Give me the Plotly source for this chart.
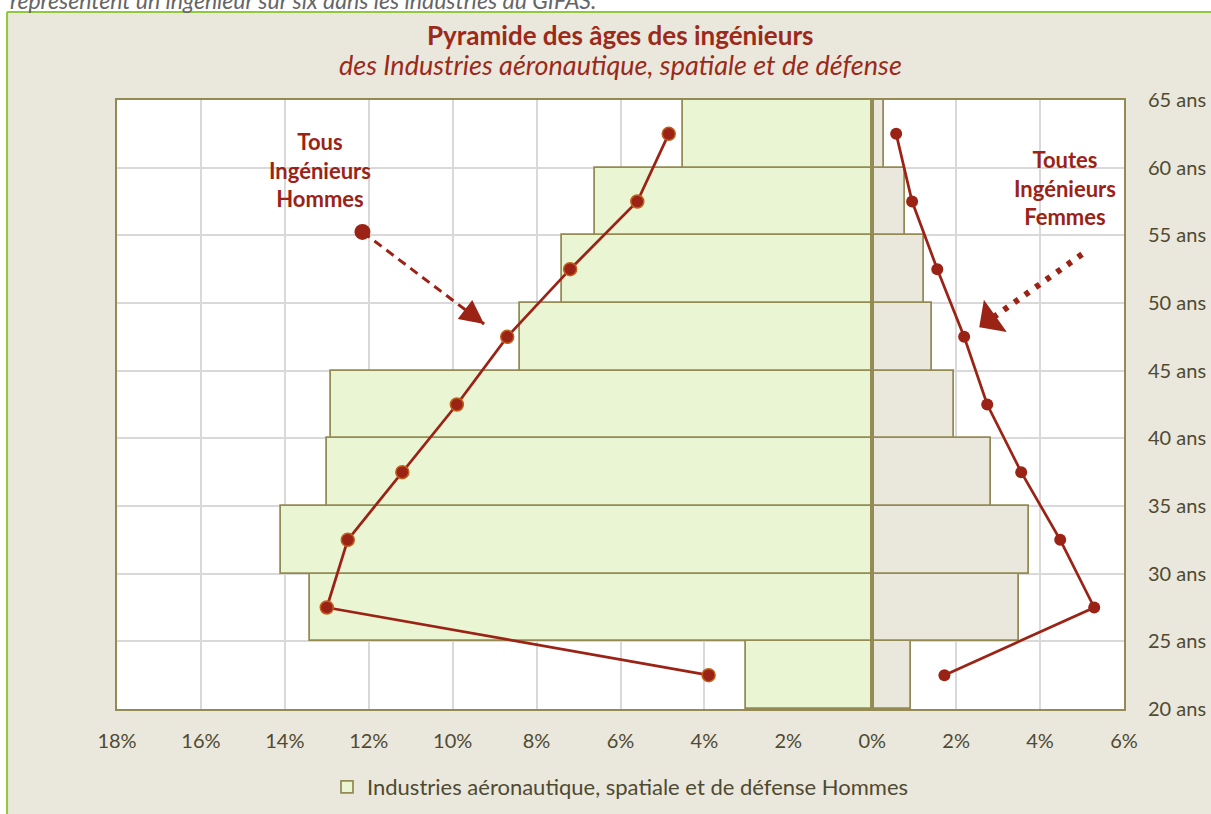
import plotly.graph_objects as go

# ---------------- data ----------------
age_centers = [22.5, 27.5, 32.5, 37.5, 42.5, 47.5, 52.5, 57.5, 62.5]
men_sector = [3.0, 13.4, 14.1, 13.0, 12.9, 8.4, 7.4, 6.6, 4.5]        # % (drawn left)
women_sector = [0.93, 3.5, 3.74, 2.84, 1.95, 1.43, 1.24, 0.79, 0.29]  # % (drawn right)
men_all = [3.9, 13.0, 12.5, 11.2, 9.9, 8.7, 7.2, 5.6, 4.85]          # Tous ingénieurs hommes
women_all = [1.72, 5.29, 4.48, 3.55, 2.74, 2.19, 1.55, 0.95, 0.57]   # Toutes ingénieurs femmes

x_tickvals = [-18, -16, -14, -12, -10, -8, -6, -4, -2, 0, 2, 4, 6]
x_ticktext = ["18%", "16%", "14%", "12%", "10%", "8%", "6%", "4%", "2%", "0%", "2%", "4%", "6%"]
y_tickvals = [20, 25, 30, 35, 40, 45, 50, 55, 60, 65]
y_ticktext = ["20 ans", "25 ans", "30 ans", "35 ans", "40 ans", "45 ans", "50 ans", "55 ans", "60 ans", "65 ans"]

# decorative pointer arrows (start, tip)
men_arrow_x = [-12.15, -9.25]
men_arrow_y = [55.25, 48.45]
women_arrow_x = [5.0, 2.55]
women_arrow_y = [53.6, 48.2]

title_text = "Pyramide des âges des ingénieurs"
subtitle_text = "des Industries aéronautique, spatiale et de défense"
legend_name = "Industries aéronautique, spatiale et de défense Hommes"
top_text = "représentent un ingénieur sur six dans les industries du GIFAS."

# ---------------- styles ----------------
RED = "#9B2316"
OLIVE = "#948A54"
BEIGE = "#EAE7DC"
GREEN_FILL = "#EAF5D3"
TXT = "#4F4A32"
FONT = "Lato"

fig = go.Figure()

fig.add_trace(go.Bar(
    y=age_centers, x=[-v for v in men_sector], orientation="h", width=5,
    marker=dict(color=GREEN_FILL, line=dict(color=OLIVE, width=1.75)),
    name=legend_name, showlegend=True, hoverinfo="skip"))
fig.add_trace(go.Bar(
    y=age_centers, x=women_sector, orientation="h", width=5,
    marker=dict(color=BEIGE, line=dict(color=OLIVE, width=1.75)),
    name="Industries aéronautique, spatiale et de défense Femmes", showlegend=False))

fig.add_trace(go.Scatter(
    y=age_centers, x=[-v for v in men_all], mode="lines+markers",
    line=dict(color=RED, width=2.75),
    marker=dict(size=13, color=RED, line=dict(color="#C0601A", width=1.5)),
    name="Tous Ingénieurs Hommes", showlegend=False))
fig.add_trace(go.Scatter(
    y=age_centers, x=women_all, mode="lines+markers",
    line=dict(color=RED, width=2.75),
    marker=dict(size=12, color=RED),
    name="Toutes Ingénieurs Femmes", showlegend=False))

# decorative arrows: shafts
fig.add_trace(go.Scatter(
    x=men_arrow_x, y=men_arrow_y, mode="lines",
    line=dict(color=RED, width=3, dash="9px,6px"),
    showlegend=False, hoverinfo="skip"))
fig.add_trace(go.Scatter(
    x=men_arrow_x[:1], y=men_arrow_y[:1], mode="markers",
    marker=dict(size=16, color=RED),
    showlegend=False, hoverinfo="skip"))
fig.add_trace(go.Scatter(
    x=women_arrow_x, y=women_arrow_y, mode="lines",
    line=dict(color=RED, width=6, dash="5px,8px"),
    showlegend=False, hoverinfo="skip"))

# zero line on top
fig.add_shape(type="line", x0=0, x1=0, y0=20, y1=65, xref="x", yref="y",
              line=dict(color=OLIVE, width=3.5), layer="above")

# outer frame (white strip above and left, green border)
fig.add_shape(type="rect", xref="paper", yref="paper",
              x0=-0.2, x1=1.2, y0=1.1445, y1=1.3, fillcolor="white",
              line=dict(width=0), layer="above")
fig.add_shape(type="rect", xref="paper", yref="paper",
              x0=-0.2, x1=-0.1092, y0=-0.3, y1=1.3, fillcolor="white",
              line=dict(width=0), layer="above")
fig.add_shape(type="line", xref="paper", yref="paper",
              x0=-0.1092, x1=1.2, y0=1.1445, y1=1.1445,
              line=dict(color="#92C83E", width=2), layer="above")
fig.add_shape(type="line", xref="paper", yref="paper",
              x0=-0.1092, x1=-0.1092, y0=-0.3, y1=1.1445,
              line=dict(color="#92C83E", width=2), layer="above")


def head(xs, ys, style, size):
    # arrowhead drawn at the tip, tail a short way back along the shaft
    f = 0.12
    return dict(x=xs[1], y=ys[1], ax=xs[1] - f * (xs[1] - xs[0]), ay=ys[1] - f * (ys[1] - ys[0]),
                xref="x", yref="y", axref="x", ayref="y", text="", showarrow=True,
                arrowhead=style, arrowsize=size, arrowwidth=3, arrowcolor=RED)


annotations = [
    dict(text="<b>" + title_text + "</b>", xref="paper", yref="paper",
         x=0.5, y=1.1067, xanchor="center", yanchor="middle", showarrow=False,
         font=dict(size=26, color="#9C2A1A", family=FONT)),
    dict(text="<i>" + subtitle_text + "</i>", xref="paper", yref="paper",
         x=0.5, y=1.0575, xanchor="center", yanchor="middle", showarrow=False,
         font=dict(size=27, color="#9C2A1A", family=FONT)),
    dict(text="<b>Tous<br>Ingénieurs<br>Hommes</b>", xref="x", yref="y",
         x=-13.16, y=59.8, xanchor="center", yanchor="middle", showarrow=False, align="center",
         font=dict(size=22, color=RED, family=FONT)),
    dict(text="<b>Toutes<br>Ingénieurs<br>Femmes</b>", xref="x", yref="y",
         x=4.6, y=58.5, xanchor="center", yanchor="middle", showarrow=False, align="center",
         font=dict(size=22, color=RED, family=FONT)),
    dict(text="<i>" + top_text + "</i>", xref="paper", yref="paper",
         x=-0.108, y=1.165, xanchor="left", yanchor="middle", showarrow=False,
         font=dict(size=23, color="#666666", family=FONT)),
    head(men_arrow_x, men_arrow_y, 2, 1.6),
    head(women_arrow_x, women_arrow_y, 1, 2.2),
]

fig.update_layout(
    width=1211, height=814,
    margin=dict(l=117, r=87, t=100, b=105, autoexpand=False),
    paper_bgcolor=BEIGE, plot_bgcolor="white",
    barmode="overlay", bargap=0,
    font=dict(family=FONT, color=TXT, size=20),
    annotations=annotations,
    legend=dict(orientation="h", x=0.5, y=-0.128, xanchor="center", yanchor="middle",
                font=dict(size=22, color=TXT, family=FONT), bgcolor="rgba(0,0,0,0)",
                itemwidth=30),
    xaxis=dict(range=[-18, 6], tickvals=x_tickvals, ticktext=x_ticktext, automargin=False,
               showgrid=True, gridcolor="#D9D9D9", gridwidth=1.5,
               zeroline=False, showline=True, mirror=True, linecolor=OLIVE, linewidth=2,
               ticks="", ticklabelstandoff=13, tickfont=dict(size=20, color=TXT)),
    yaxis=dict(range=[20, 65], tickvals=y_tickvals, ticktext=y_ticktext, side="right",
               automargin=False,
               showgrid=True, gridcolor="#D9D9D9", gridwidth=1.5,
               zeroline=False, showline=True, mirror=True, linecolor=OLIVE, linewidth=2,
               ticks="", ticklabelstandoff=18, tickfont=dict(size=20, color=TXT)),
)

fig.write_html(
    "out.html",
    config={"displayModeBar": False},
    post_script="document.body.style.margin='0px';document.body.style.overflow='hidden';",
)
